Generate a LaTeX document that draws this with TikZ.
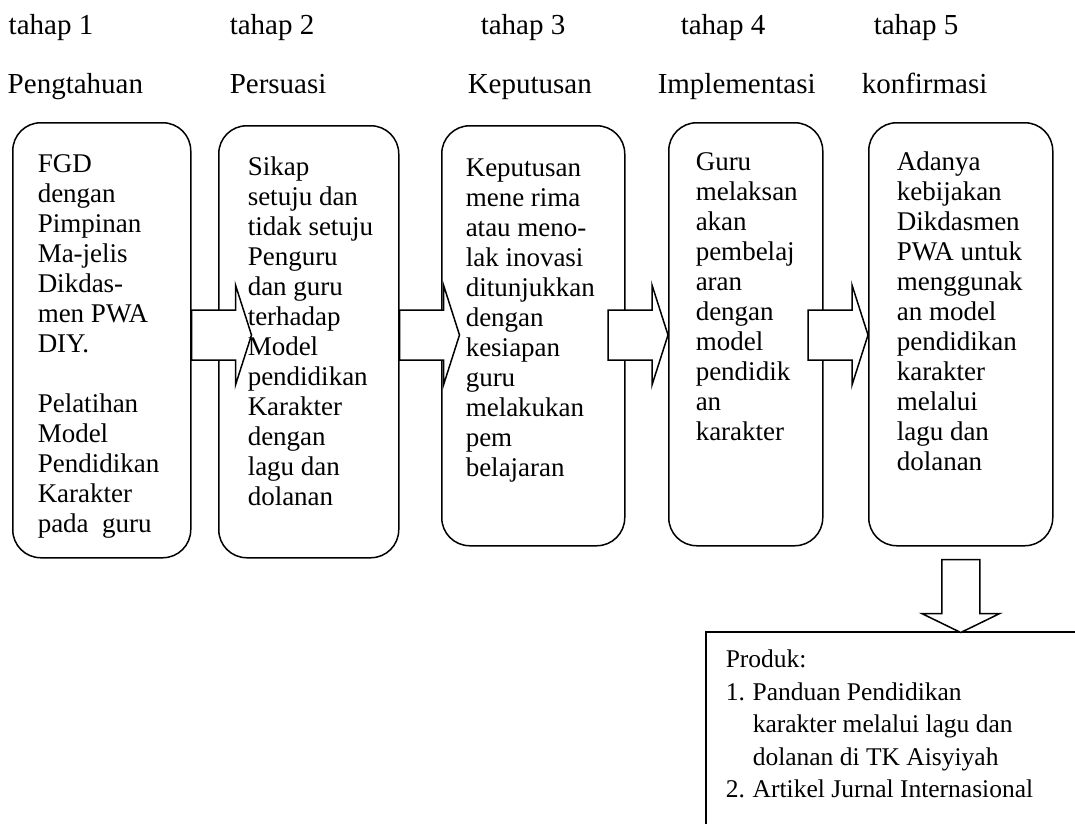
\documentclass[tikz,border=0pt]{standalone}
\usepackage{fontspec}
\setmainfont{Liberation Serif}
\usetikzlibrary{positioning, calc}

\newcommand{\headfont}{\fontsize{29}{30}\selectfont}
\newcommand{\boxfont}{\fontsize{27}{30}\selectfont}
\newcommand{\prodfont}{\fontsize{25.5}{32.5}\selectfont}

\begin{document}
\begin{tikzpicture}[x=1pt, y=-1pt, line width=1.5pt,
    stagebox/.style={draw, rounded corners=28pt, anchor=north west, inner sep=0pt},
    stagetext/.style={font=\boxfont, align=left, inner sep=0pt},
    headtext/.style={font=\headfont, anchor=base west, inner sep=0pt},
    blockarrow/.style={draw, fill=white, line join=miter},
    prodbox/.style={draw, anchor=north west, inner sep=0pt}]
  \useasboundingbox (0,0) rectangle (1075,823);

  \node[headtext] (h1) at (8,34) {tahap 1};
  \node[headtext] (h2) at (229,34) {tahap 2};
  \node[headtext] (h3) at (480,34) {tahap 3};
  \node[headtext] (h4) at (680,34) {tahap 4};
  \node[headtext] (h5) at (873,34) {tahap 5};
  \node[headtext] (n1) at (7,93) {Pengtahuan};
  \node[headtext] (n2) at (229,93) {Persuasi};
  \node[headtext] (n3) at (467,93) {Keputusan};
  \node[headtext] (n4) at (657,93) {Implementasi};
  \node[headtext] (n5) at (861,93) {konfirmasi};

  \node[stagebox, minimum width=178, minimum height=435] (b1) at (12,122) {};
  \node[stagebox, minimum width=180, minimum height=432] (b2) at (218,125) {};
  \node[stagebox, minimum width=183, minimum height=420] (b3) at (441,125) {};
  \node[stagebox, minimum width=154, minimum height=423] (b4) at (668,122) {};
  \node[stagebox, minimum width=184, minimum height=423] (b5) at (868,122) {};
  \node[prodbox, minimum width=420, minimum height=240] (prod) at (705,631) {};

  \coordinate (axis) at (0,335);
  \path (b1.east |- axis) coordinate (s1)
        (b2.east |- axis) coordinate (s2)
        ($(b4.west |- axis)+(-60,0)$) coordinate (s3)
        ($(b5.west |- axis)+(-60,0)$) coordinate (s4);
  \foreach \i in {1,...,4}
    \draw[blockarrow] ($(s\i)+(0,-25)$) -- ++(44,0) -- ++(0,-25) -- ++(16,50)
      -- ++(-16,50) -- ++(0,-25) -- ++(-44,0) -- cycle;
  \draw[blockarrow] ($(b5.south)+(-19,13)$) -- ++(38,0) -- ++(0,54) -- ++(20,0)
    -- ++(-39,19) -- ++(-39,-19) -- ++(20,0) -- cycle;

  \node[stagetext, below right=29pt and 25pt of b1.north west] (t1)
    {\strut FGD\\dengan\\Pimpinan\\Ma-jelis\\Dikdas-\\men PWA\\DIY.\\[30pt]Pelatihan\\Model\\Pendidikan\\Karakter\\pada\ \ guru};
  \node[stagetext, below right=29pt and 29pt of b2.north west] (t2)
    {\strut Sikap\\setuju dan\\tidak setuju\\Penguru\\dan guru\\terhadap\\Model\\pendidikan\\Karakter\\dengan\\lagu dan\\dolanan};
  \node[stagetext, below right=30pt and 24pt of b3.north west] (t3)
    {\strut Keputusan\\mene rima\\atau meno-\\lak inovasi\\ditunjukkan\\dengan\\kesiapan\\guru\\melakukan\\pem\\belajaran};
  \node[stagetext, below right=27pt and 27pt of b4.north west] (t4)
    {\strut Guru\\melaksan\\akan\\pembelaj\\aran\\dengan\\model\\pendidik\\an\\karakter};
  \node[stagetext, below right=27pt and 28pt of b5.north west] (t5)
    {\strut Adanya\\kebijakan\\Dikdasmen\\PWA untuk\\menggunak\\an model\\pendidikan\\karakter\\melalui\\lagu dan\\dolanan};
  \node[font=\prodfont, align=left, inner sep=0pt, below right=13pt and 20pt of prod.north west] (p1)
    {\strut Produk:\\\makebox[27pt][l]{1.}Panduan Pendidikan\\\hspace*{27pt}karakter melalui lagu dan\\\hspace*{27pt}dolanan di TK Aisyiyah\\\makebox[27pt][l]{2.}Artikel Jurnal Internasional};
\end{tikzpicture}
\end{document}
